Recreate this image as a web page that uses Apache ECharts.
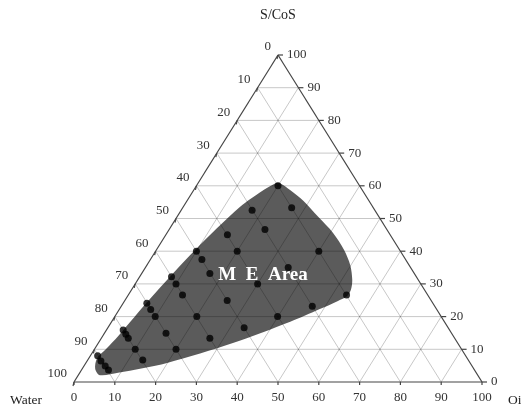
<!DOCTYPE html>
<html>
<head>
<meta charset="utf-8">
<script src="https://cdn.jsdelivr.net/npm/echarts@6/dist/echarts.min.js"></script>
<style>html,body{margin:0;padding:0;background:#fff;}#c{width:521px;height:410px;}</style>
</head>
<body>
<div id="c"></div>
<script>
// Tick values (percent) on all three axes
const ticks = [0, 10, 20, 30, 40, 50, 60, 70, 80, 90, 100];

// Experimental points: Oil % and S/CoS % (Water = 100 - Oil - S/CoS)
const pointOil  = [20, 17.4, 26.7, 23.5, 15.1, 10, 20, 40, 12.6, 35, 16.7, 7.8, 10, 30, 13.3, 53.5, 25.1, 5.8, 7.7, 46.8, 9.9, 20.1, 39.9, 33.4, 4.1, 5.4, 6.6, 15.1, 26.6, 10, 20, 13.5, 1.8, 3.4, 5.2, 6.6];
const pointScos = [60, 52.5, 53.3, 46.6, 45, 40, 40, 40, 37.5, 35, 33.2, 32.2, 30, 30, 26.6, 26.6, 24.9, 24.1, 22.2, 23.2, 20, 20, 20, 16.6, 15.9, 14.6, 13.4, 14.9, 13.4, 10, 10, 6.7, 8, 6.4, 4.9, 3.7];

// Outline of the microemulsion (ME) region: Oil % and S/CoS %
const areaOil  = [19.6, 23.6, 28.5, 34.6, 40.7, 46.0, 49.8, 52.6, 53.8, 53.8, 52.3, 49.1, 43.8, 33.0, 19.9, 9.4, 5.3, 3.2, 2.0, 2.8, 3.8, 5.9, 9.5, 13.9, 16.9, 18.4];
const areaScos = [60.9, 58.7, 55.4, 50.5, 45.6, 40.4, 35.8, 31.2, 28.1, 26.3, 24.8, 22.3, 18.4, 11.9, 5.8, 2.8, 2.1, 4.0, 7.3, 10.1, 14.1, 25.4, 40.4, 53.5, 58.4, 60.2];

// ternary (oil, scos) -> cartesian value pair
function tx(oil, s) { return [oil + s / 2, s]; }

const chart = echarts.init(document.getElementById('c'), null, {renderer: 'canvas'});
const tickFont = '13px "Liberation Serif", "DejaVu Serif", serif';
const labelColor = '#333';

const option = {
  animation: false,
  backgroundColor: '#fff',
  grid: {left: 74, right: 39, top: 55, bottom: 28},
  xAxis: {type: 'value', min: 0, max: 100, show: false},
  yAxis: {type: 'value', min: 0, max: 100, show: false},
  graphic: [
    {type: 'text', x: 278, y: 15, style: {text: 'S/CoS', x: 0, y: 0, align: 'center', verticalAlign: 'middle', font: '14px "Liberation Serif", serif', fill: '#222'}},
    {type: 'text', x: 26, y: 400, style: {text: 'Water', x: 0, y: 0, align: 'center', verticalAlign: 'middle', font: '13.5px "Liberation Serif", serif', fill: '#222'}},
    {type: 'text', x: 508, y: 400, style: {text: 'Oil', x: 0, y: 0, align: 'left', verticalAlign: 'middle', font: '13.5px "Liberation Serif", serif', fill: '#222'}},
    {type: 'text', x: 263, y: 275, z: 100, style: {text: 'M  E  Area', x: 0, y: 0, align: 'center', verticalAlign: 'middle', font: 'bold 19px "Liberation Serif", serif', fill: '#fff'}}
  ],
  series: [
    {
      type: 'custom', coordinateSystem: 'cartesian2d', silent: true, z: 1,
      data: [[0, 0]],
      renderItem: function (params, api) {
        const pts = areaOil.map((o, i) => api.coord(tx(o, areaScos[i])));
        return {type: 'polygon', shape: {points: pts, smooth: 0.3}, style: {fill: '#5b5b5b'}};
      }
    },
    {
      type: 'custom', coordinateSystem: 'cartesian2d', silent: true, z: 2,
      data: [[0, 0]],
      renderItem: function (params, api) {
        const children = [];
        const gridStyle = {stroke: 'rgba(0,0,0,0.22)', lineWidth: 1};
        const line = (a, b, style) => children.push({type: 'line', shape: {x1: a[0], y1: a[1], x2: b[0], y2: b[1]}, style: style});
        ticks.forEach(t => {
          if (t === 0 || t === 100) return;
          line(api.coord(tx(0, t)), api.coord(tx(100 - t, t)), gridStyle);
          line(api.coord(tx(t, 0)), api.coord(tx(t, 100 - t)), gridStyle);
          line(api.coord(tx(100 - t, 0)), api.coord(tx(0, 100 - t)), gridStyle);
        });
        const edge = {stroke: '#444', lineWidth: 1.2};
        const A = api.coord(tx(0, 0)), B = api.coord(tx(100, 0)), C = api.coord(tx(0, 100));
        line(A, B, edge); line(B, C, edge); line(C, A, edge);
        ticks.forEach(t => {
          const pb = api.coord(tx(t, 0));
          line([pb[0], pb[1]], [pb[0], pb[1] + 3], edge);
          children.push({type: 'text', style: {text: String(t), x: pb[0], y: pb[1] + 16, align: 'center', verticalAlign: 'middle', font: tickFont, fill: labelColor}});
          const pr = api.coord(tx(100 - t, t));
          line(pr, [pr[0] + 5, pr[1]], edge);
          children.push({type: 'text', style: {text: String(t), x: pr[0] + 9, y: pr[1], align: 'left', verticalAlign: 'middle', font: tickFont, fill: labelColor}});
          const pl = api.coord(tx(0, 100 - t));
          line(pl, [pl[0] - 1, pl[1] + 4], edge);
          children.push({type: 'text', style: {text: String(t), x: pl[0] - 7, y: pl[1] - 8, align: 'right', verticalAlign: 'middle', font: tickFont, fill: labelColor}});
        });
        return {type: 'group', children: children};
      }
    },
    {
      type: 'scatter', z: 3, silent: true,
      symbol: 'circle', symbolSize: 7,
      itemStyle: {color: '#000'},
      data: pointOil.map((o, i) => tx(o, pointScos[i]))
    }
  ]
};
chart.setOption(option);
</script>
</body>
</html>
